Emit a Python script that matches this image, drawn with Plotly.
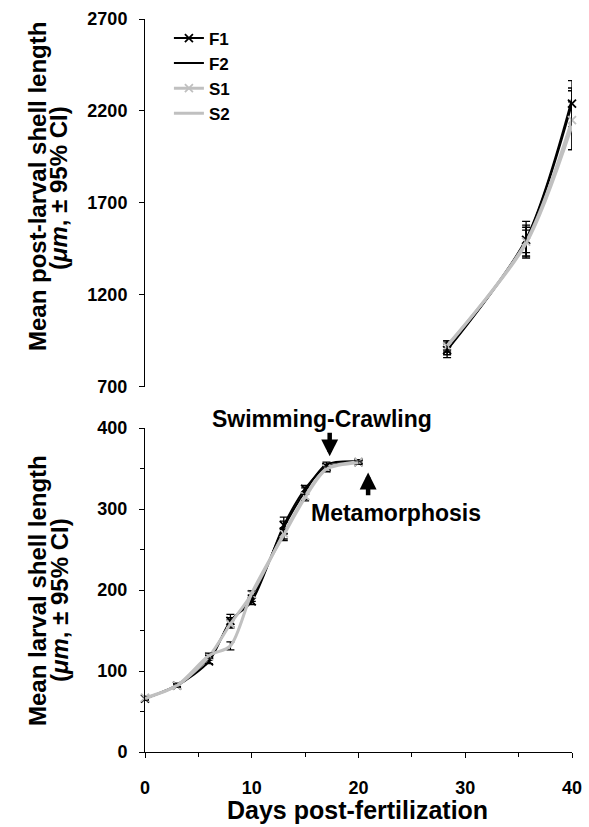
import plotly.graph_objects as go

# ---------------- data ----------------
larval_days = [0, 3, 6, 8, 10, 13, 15, 17, 20]
larval_F1 = [66, 82, 112, 162, 186, 280, 325, 352, 358]
larval_F2 = [66, 83, 116, 160, 190, 277, 322, 355, 359]
larval_S1 = [67, 82, 118, 158, 195, 270, 316, 350, 358]
larval_S2 = [66, 82, 119, 131, 196, 268, 314, 349, 357]
larval_F1_ci = [2, 2, 3, 8, 4, 10, 4, 3, 2]
larval_F2_ci = [2, 2, 3, 6, 4, 8, 4, 3, 2]
larval_S1_ci = [2, 2, 3, 5, 4, 7, 4, 3, 2]
larval_S2_ci = [2, 2, 3, 5, 3, 7, 4, 3, 2]

post_days = [28.3, 35.7, 40]
post_F1 = [900, 1500, 2240]
post_F2 = [905, 1505, 2265]
post_S1 = [920, 1490, 2150]
post_S2 = [925, 1480, 2120]
post_F1_ci = [40, 100, 125]
post_F2_ci = [30, 75, 60]
post_S1_ci = [30, 78, 160]
post_S2_ci = [25, 73, 130]

series_names = ["F1", "F2", "S1", "S2"]
x_ticks = [0, 10, 20, 30, 40]
top_ticks = [700, 1200, 1700, 2200, 2700]
bottom_ticks = [0, 100, 200, 300, 400]

# ---------------- style ----------------
FONT = "Liberation Sans, Arial, sans-serif"
BLACK = "#000000"
GRAY = "#c0c0c0"
styles = {
    "F1": dict(color=BLACK, width=2, marker=True),
    "F2": dict(color=BLACK, width=2, marker=False),
    "S1": dict(color=GRAY, width=3, marker=True),
    "S2": dict(color=GRAY, width=3, marker=False),
}

larval = {"F1": (larval_F1, larval_F1_ci), "F2": (larval_F2, larval_F2_ci),
          "S1": (larval_S1, larval_S1_ci), "S2": (larval_S2, larval_S2_ci)}
post = {"F1": (post_F1, post_F1_ci), "F2": (post_F2, post_F2_ci),
        "S1": (post_S1, post_S1_ci), "S2": (post_S2, post_S2_ci)}

fig = go.Figure()


def add(name, xs, ys, ci, xa, ya, show):
    st = styles[name]
    fig.add_trace(go.Scatter(
        x=xs, y=ys, name=name, legendgroup=name, showlegend=show,
        mode="lines+markers" if st["marker"] else "lines",
        line=dict(color=st["color"], width=st["width"], shape="spline", smoothing=0.8),
        marker=dict(symbol="x-thin", size=8, line=dict(color=st["color"], width=1.8)),
        error_y=dict(type="data", array=ci, visible=True, color=BLACK, thickness=1.3, width=4),
        xaxis=xa, yaxis=ya, cliponaxis=False,
    ))


for n in series_names:
    add(n, post_days, post[n][0], post[n][1], "x2", "y2", True)
for n in series_names:
    add(n, larval_days, larval[n][0], larval[n][1], "x", "y", False)

tickfont = dict(family=FONT, size=18, color=BLACK, weight="bold")
axis_common = dict(showline=True, linecolor=BLACK, linewidth=1, ticks="outside",
                   tickcolor=BLACK, ticklen=5, tickwidth=1, showgrid=False,
                   zeroline=False, tickfont=tickfont, automargin=False)

fig.update_layout(
    width=589, height=827,
    margin=dict(l=145, r=17, t=19, b=75),
    paper_bgcolor="white", plot_bgcolor="white",
    font=dict(family=FONT, color=BLACK),
    showlegend=True,
    legend=dict(x=0.056, y=0.998, xanchor="left", yanchor="top",
                font=dict(family=FONT, size=17, color=BLACK, weight="bold"),
                bgcolor="rgba(0,0,0,0)", tracegroupgap=0, itemwidth=30),
    xaxis=dict(domain=[0, 1], range=[0, 40], tickvals=x_ticks, anchor="y",
               minor=dict(dtick=5, ticks="outside", ticklen=4, tickcolor=BLACK),
               ticklabelstandoff=14, **axis_common),
    yaxis=dict(domain=[0, 0.442], range=[0, 400], tickvals=bottom_ticks, anchor="x",
               minor=dict(dtick=50, ticks="outside", ticklen=4, tickcolor=BLACK),
               ticklabelstandoff=8, **axis_common),
    xaxis2=dict(domain=[0, 1], range=[0, 40], matches="x", anchor="y2", visible=False),
    yaxis2=dict(domain=[0.498, 1], range=[700, 2700], tickvals=top_ticks, anchor="x2",
                ticklabelstandoff=8, **axis_common),
)

PW, PH, L, T = 427, 733, 145, 19


def px(xp):
    return (xp - L) / PW


def py(yp):
    return (T + PH - yp) / PH


title_font = dict(family=FONT, size=24, color=BLACK, weight="bold")
xtitle_font = dict(family=FONT, size=25, color=BLACK, weight="bold")
label_font = dict(family=FONT, size=23, color=BLACK, weight="bold")
ann = []
# y-axis titles
ann.append(dict(text="Mean post-larval shell length", xref="paper", yref="paper",
                x=px(37), y=py(187), textangle=-90,
                showarrow=False, xanchor="center", yanchor="middle", font=title_font))
ann.append(dict(text="(<i>μm</i>, ± 95% CI)", xref="paper", yref="paper",
                x=px(59), y=py(188), textangle=-90,
                showarrow=False, xanchor="center", yanchor="middle", font=title_font))
ann.append(dict(text="Mean larval shell length", xref="paper", yref="paper",
                x=px(37), y=py(591), textangle=-90,
                showarrow=False, xanchor="center", yanchor="middle", font=title_font))
ann.append(dict(text="(<i>μm</i>, ± 95% CI)", xref="paper", yref="paper",
                x=px(59), y=py(600), textangle=-90,
                showarrow=False, xanchor="center", yanchor="middle", font=title_font))
# x-axis title
ann.append(dict(text="Days post-fertilization", xref="paper", yref="paper",
                x=px(357), y=py(810), showarrow=False,
                xanchor="center", yanchor="middle", font=xtitle_font))
# stage labels
ann.append(dict(text="Swimming-Crawling", xref="paper", yref="paper", x=px(322), y=py(419),
                showarrow=False, xanchor="center", yanchor="middle", font=label_font))
ann.append(dict(text="Metamorphosis", xref="paper", yref="paper", x=px(396), y=py(513),
                showarrow=False, xanchor="center", yanchor="middle", font=label_font))
# arrows
ann.append(dict(text="", xref="x", yref="y", x=17.3, y=365, ax=17.3, ay=396,
                axref="x", ayref="y", showarrow=True, arrowhead=2, arrowsize=0.75,
                arrowwidth=4.5, arrowcolor=BLACK))
ann.append(dict(text="", xref="x", yref="y", x=20.9, y=345, ax=20.9, ay=315,
                axref="x", ayref="y", showarrow=True, arrowhead=2, arrowsize=0.75,
                arrowwidth=4.5, arrowcolor=BLACK))
fig.update_layout(annotations=ann)

fig.write_html("out.html", config={"displayModeBar": False},
               post_script="document.body.style.margin='0';document.body.style.overflow='hidden';")
